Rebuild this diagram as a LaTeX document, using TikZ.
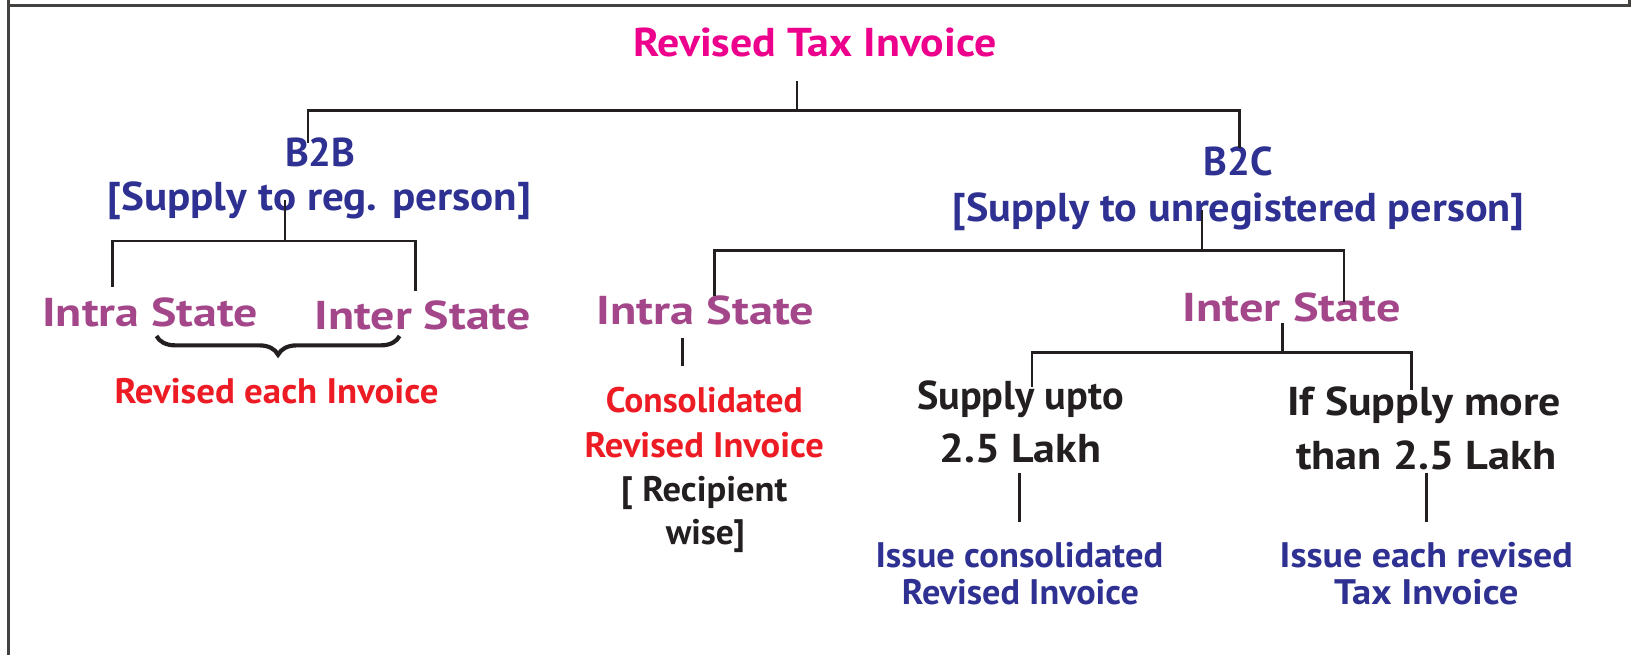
\documentclass[tikz,border=0pt]{standalone}
\usepackage{fontspec}
\usepackage{graphicx}
\setmainfont{PT Sans}
\usetikzlibrary{decorations.pathreplacing}
\definecolor{pinkT}{HTML}{EC008C}
\definecolor{navy}{HTML}{2E3192}
\definecolor{plum}{HTML}{A4478A}
\definecolor{redT}{HTML}{ED1C24}
\definecolor{ink}{HTML}{231F20}
% horizontal stretch of a label
\newcommand\hs[2]{\scalebox{#1}[1]{#2}}
\begin{document}
\begin{tikzpicture}[x=0.5pt,y=-0.5pt,
  big/.style={anchor=base, inner sep=0pt, font=\bfseries\fontsize{19.3}{22}\selectfont},
  mid/.style={anchor=base, inner sep=0pt, font=\bfseries\fontsize{17}{20}\selectfont},
  wire/.style={draw=ink, line width=1.2pt},
  frame/.style={draw=ink!85, line width=1.4pt}]
\useasboundingbox (0,0) rectangle (1568,628);

% outer frame
\coordinate (fl0) at (8,0);
\coordinate (fl1) at (8,628);
\coordinate (ft0) at (8,5);
\coordinate (ft1) at (1562,5);
\coordinate (fr0) at (1562,0);
\draw[frame] (fl0) -- (fl1);
\draw[frame] (ft0) -- (ft1) -- (fr0);

% top level
\node[big, text=pinkT] (root) at (781,54) {\hs{1.09}{Revised Tax Invoice}};

\node[big, text=navy] (b2b) at (307,160) {B2B};
\node[big, text=navy] (b2bsub) at (306,202) {\hs{1.07}{[Supply to reg. person]}};
\node[big, text=navy] (b2c) at (1187,168) {B2C};
\node[big, text=navy] (b2csub) at (1187,212) {\hs{1.05}{[Supply to unregistered person]}};

% B2B branch
\node[big, text=plum] (intraL) at (144,313) {\hs{1.19}{Intra State}};
\node[big, text=plum] (interL) at (405,316) {\hs{1.19}{Inter State}};
\node[mid, text=redT] (eachinv) at (265,387) {\hs{1.04}{Revised each Invoice}};

% B2C branch
\node[big, text=plum] (intraM) at (676,311) {\hs{1.2}{Intra State}};
\node[big, text=plum] (interR) at (1238,308) {\hs{1.2}{Inter State}};

\node[mid, text=redT] (cons1) at (675,395) {Consolidated};
\node[mid, text=redT] (cons2) at (675,438) {\hs{1.03}{Revised Invoice}};
\node[mid, text=ink] (cons3) at (675,481) {\hs{1.03}{[ Recipient}};
\node[mid, text=ink] (cons4) at (676,522) {wise]};

\node[big, text=ink] (upto1) at (978,392) {Supply upto};
\node[big, text=ink] (upto2) at (978,443) {\hs{1.09}{2.5 Lakh}};
\node[big, text=ink] (more1) at (1365,398) {\hs{1.09}{If Supply more}};
\node[big, text=ink] (more2) at (1367,450) {\hs{1.1}{than 2.5 Lakh}};

\node[mid, text=navy] (iss1) at (977,544) {\hs{1.03}{Issue consolidated}};
\node[mid, text=navy] (iss2) at (978,579) {\hs{1.02}{Revised Invoice}};
\node[mid, text=navy] (each1) at (1367,544) {\hs{1.07}{Issue each revised}};
\node[mid, text=navy] (each2) at (1367,579) {\hs{1.09}{Tax Invoice}};

% connector junctions
\coordinate (r0) at (764,78);
\coordinate (r1) at (764,106);
\coordinate (rl) at (295,106);
\coordinate (rl1) at (295,137);
\coordinate (rr) at (1188,106);
\coordinate (rr1) at (1188,142);

\coordinate (a0) at (273,192);
\coordinate (a1) at (273,231);
\coordinate (al) at (108,231);
\coordinate (al1) at (108,275);
\coordinate (ar) at (398,231);
\coordinate (ar1) at (398,279);

\coordinate (c0) at (1152,201);
\coordinate (c1) at (1152,240);
\coordinate (cl) at (685,240);
\coordinate (cl1) at (685,284);
\coordinate (cr) at (1288,240);
\coordinate (cr1) at (1288,289);

\coordinate (m0) at (654,324);
\coordinate (m1) at (654,351);

\coordinate (i0) at (1229,310);
\coordinate (i1) at (1229,338);
\coordinate (il) at (989,338);
\coordinate (il1) at (989,371);
\coordinate (ir) at (1353,338);
\coordinate (ir1) at (1353,374);

\coordinate (u0) at (977,453);
\coordinate (u1) at (977,500);
\coordinate (v0) at (1367,453);
\coordinate (v1) at (1367,500);

% tree connectors
\draw[wire] (r0) -- (r1);
\draw[wire] (rl1) -- (rl) -- (rr) -- (rr1);
\draw[wire] (a0) -- (a1);
\draw[wire] (al1) -- (al) -- (ar) -- (ar1);
\draw[wire] (c0) -- (c1);
\draw[wire] (cl1) -- (cl) -- (cr) -- (cr1);
\draw[wire] (m0) -- (m1);
\draw[wire] (i0) -- (i1);
\draw[wire] (il1) -- (il) -- (ir) -- (ir1);
\draw[wire] (u0) -- (u1);
\draw[wire] (v0) -- (v1);

% brace under the two B2B cases
\coordinate (br0) at (150,322);
\coordinate (br1) at (383,322);
\draw[draw=ink, line width=2pt, decorate,
  decoration={brace, amplitude=9pt, aspect=0.5}] (br1) -- (br0);
\end{tikzpicture}
\end{document}
